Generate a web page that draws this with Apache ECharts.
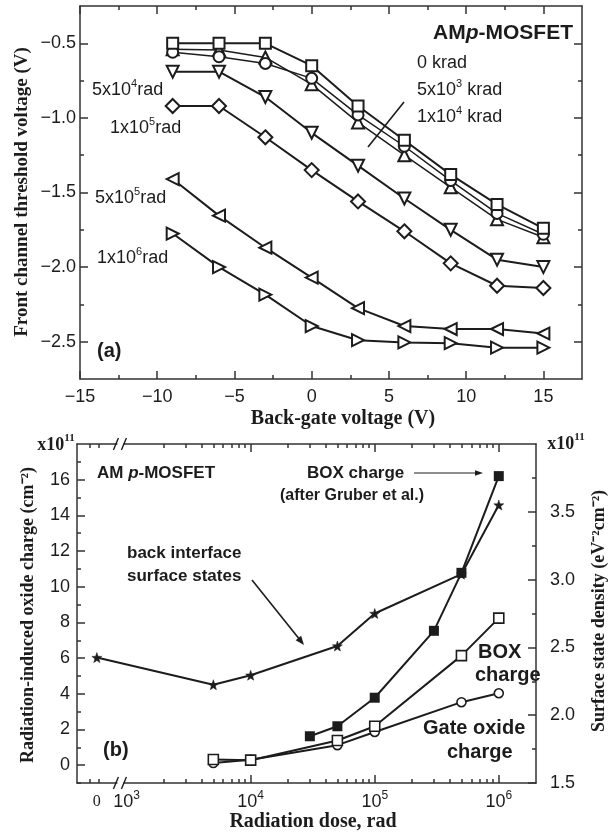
<!DOCTYPE html>
<html><head><meta charset="utf-8">
<script src="https://cdn.jsdelivr.net/npm/echarts@6/dist/echarts.min.js"></script>
<style>html,body{margin:0;padding:0;background:#fff}#c{width:611px;height:834px}</style>
</head><body><div id="c"></div>
<script>
// ---------- Panel (a) data ----------
const backGateV  = [-9, -6, -3, 0, 3, 6, 9, 12, 15];
const vt_0krad   = [-0.50, -0.50, -0.50, -0.65, -0.92, -1.15, -1.38, -1.58, -1.74];
const vt_5e3krad = [-0.56, -0.59, -0.635, -0.735, -0.98, -1.19, -1.42, -1.64, -1.78];
const vt_1e4krad = [-0.54, -0.545, -0.595, -0.775, -1.03, -1.25, -1.465, -1.68, -1.80];
const vt_5e4rad  = [-0.69, -0.69, -0.86, -1.10, -1.32, -1.54, -1.75, -1.95, -2.00];
const vt_1e5rad  = [-0.92, -0.92, -1.13, -1.35, -1.56, -1.76, -1.975, -2.125, -2.14];
const vt_5e5rad  = [-1.41, -1.655, -1.87, -2.07, -2.275, -2.395, -2.415, -2.415, -2.445];
const vt_1e6rad  = [-1.775, -2.00, -2.185, -2.395, -2.49, -2.505, -2.51, -2.54, -2.54];
const aXMajor = [-15, -10, -5, 0, 5, 10, 15];
const aXMinor = [-12.5, -7.5, -2.5, 2.5, 7.5, 12.5];
const aYMajor = [-0.5, -1.0, -1.5, -2.0, -2.5];
const aYMinor = [-0.75, -1.25, -1.75, -2.25];

// ---------- Panel (b) data ----------
const doseStar   = [0, 5e3, 1e4, 5e4, 1e5, 5e5, 1e6];
const surfState  = [2.425, 2.225, 2.295, 2.51, 2.75, 3.04, 3.55];
const doseGruber = [3e4, 5e4, 1e5, 3e5, 5e5, 1e6];
const boxGruber  = [1.62, 2.18, 3.78, 7.53, 10.78, 16.2];
const doseBox    = [5e3, 1e4, 5e4, 1e5, 5e5, 1e6];
const boxCharge  = [0.32, 0.28, 1.38, 2.18, 6.14, 8.24];
const doseGate   = [5e3, 1e4, 5e4, 1e5, 5e5, 1e6];
const gateCharge = [0.12, 0.30, 1.12, 1.86, 3.53, 4.03];
const bLeftMajor  = [0, 2, 4, 6, 8, 10, 12, 14, 16];
const bLeftMinor  = [-1, 1, 3, 5, 7, 9, 11, 13, 15, 17];
const bRightMajor = [1.5, 2.0, 2.5, 3.0, 3.5];
const bRightMinor = [1.75, 2.25, 2.75, 3.25, 3.75];
const bDoseLabels = [0, 1e3, 1e4, 1e5, 1e6];
const bDoseMajor  = [1e4, 1e5, 1e6];

// layout rule for the broken log axis: dose 0 is drawn left of the break
const ZERO_POS = 2.76, BREAK_POS = 2.95, X_MIN = 2.6, X_MAX = 6.3;
function xPos(d) { return d === 0 ? ZERO_POS : Math.log10(d); }
const bDoseMinor = [];
[2, 3, 4, 5].forEach(n => { for (let k = 2; k <= 9; k++) {
  const v = Math.log10(k * Math.pow(10, n));
  if (v > X_MIN + 0.02 && v < X_MAX && !(v > 2.82 && v < 3.05)) bDoseMinor.push(v);
}});

const INK = '#1c1c1c', AX = '#333';
const SANS = '"Liberation Sans", Arial, sans-serif';
const SERIF = '"Liberation Serif", "Times New Roman", serif';
const minus = s => String(s).replace('-', '\u2212');

function mkAxis(o) {
  return {
    type: 'value', gridIndex: o.grid, position: o.pos, min: o.min, max: o.max,
    axisLine: { show: !!o.line, onZero: false, lineStyle: { color: AX, width: 1.5 } },
    axisTick: { show: true, inside: true, length: o.len, customValues: o.ticks, lineStyle: { color: AX, width: 1.5 } },
    axisLabel: o.labels ? Object.assign({ show: true, customValues: o.labels, color: INK, fontFamily: SANS, fontSize: 18 }, o.labelOpt || {}) : { show: false },
    splitLine: { show: false }, minorTick: { show: false }, axisPointer: { show: false }
  };
}

const xAxes = [
  mkAxis({ grid: 0, pos: 'bottom', min: -15, max: 17.5, line: true, ticks: aXMajor, len: 8, labels: aXMajor, labelOpt: { margin: 9, formatter: v => minus(v) } }),
  mkAxis({ grid: 0, pos: 'bottom', min: -15, max: 17.5, ticks: aXMinor, len: 4 }),
  mkAxis({ grid: 0, pos: 'top', min: -15, max: 17.5, line: true, ticks: aXMajor, len: 8 }),
  mkAxis({ grid: 0, pos: 'top', min: -15, max: 17.5, ticks: aXMinor, len: 4 }),
  mkAxis({ grid: 1, pos: 'bottom', min: X_MIN, max: X_MAX, line: true, ticks: bDoseMajor.map(xPos), len: 8,
    labels: bDoseLabels.map(xPos), labelOpt: { margin: 7,
      formatter: v => Math.abs(v - ZERO_POS) < 1e-6 ? '{z|0}' : '{b|10}{s|' + Math.round(v) + '}',
      rich: { z: { fontFamily: SERIF, fontSize: 16, color: INK, lineHeight: 24, padding: [0, 0, 0, 0] },
              b: { fontFamily: SANS, fontSize: 18, color: INK, lineHeight: 24 },
              s: { fontFamily: SANS, fontSize: 12, color: INK, verticalAlign: 'top' } } } }),
  mkAxis({ grid: 1, pos: 'bottom', min: X_MIN, max: X_MAX, ticks: bDoseMinor, len: 4 }),
  mkAxis({ grid: 1, pos: 'top', min: X_MIN, max: X_MAX, line: true, ticks: bDoseMajor.map(xPos), len: 8 }),
  mkAxis({ grid: 1, pos: 'top', min: X_MIN, max: X_MAX, ticks: bDoseMinor, len: 4 })
];
const yAxes = [
  mkAxis({ grid: 0, pos: 'left', min: -2.75, max: -0.25, line: true, ticks: aYMajor, len: 8, labels: aYMajor, labelOpt: { margin: 4, formatter: v => minus(v.toFixed(1)) } }),
  mkAxis({ grid: 0, pos: 'left', min: -2.75, max: -0.25, ticks: aYMinor, len: 4 }),
  mkAxis({ grid: 0, pos: 'right', min: -2.75, max: -0.25, line: true, ticks: aYMajor, len: 8 }),
  mkAxis({ grid: 0, pos: 'right', min: -2.75, max: -0.25, ticks: aYMinor, len: 4 }),
  mkAxis({ grid: 1, pos: 'left', min: -1, max: 18, line: true, ticks: bLeftMajor, len: 8, labels: bLeftMajor, labelOpt: { margin: 7 } }),
  mkAxis({ grid: 1, pos: 'left', min: -1, max: 18, ticks: bLeftMinor, len: 4 }),
  mkAxis({ grid: 1, pos: 'right', min: 1.5, max: 4.0, line: true, ticks: bRightMajor, len: 8, labels: bRightMajor, labelOpt: { margin: 14, formatter: v => v.toFixed(1) } }),
  mkAxis({ grid: 1, pos: 'right', min: 1.5, max: 4.0, ticks: bRightMinor, len: 4 })
];

const STAR = 'path://M0,-10L2.35,-3.24L9.51,-3.09L3.8,1.24L5.88,8.09L0,4.5L-5.88,8.09L-3.8,1.24L-9.51,-3.09L-2.35,-3.24Z';
function ser(xs, ys, sym, o) {
  o = o || {};
  return {
    type: 'line', xAxisIndex: o.xi || 0, yAxisIndex: o.yi || 0,
    data: xs.map((x, i) => [o.xf ? o.xf(x) : x, ys[i]]),
    symbol: sym, symbolSize: o.size || 11, symbolRotate: o.rot || 0, showSymbol: true,
    lineStyle: { color: INK, width: o.lw || 2 },
    itemStyle: { color: o.fill || '#fff', borderColor: INK, borderWidth: o.bw === undefined ? 2 : o.bw },
    emphasis: { disabled: true }, silent: true, animation: false, z: o.z || 2
  };
}
const series = [
  ser(backGateV, vt_1e6rad, 'triangle', { rot: -90, size: 12 }),
  ser(backGateV, vt_5e5rad, 'triangle', { rot: 90, size: 12 }),
  ser(backGateV, vt_1e5rad, 'diamond', { size: 14 }),
  ser(backGateV, vt_5e4rad, 'triangle', { rot: 180, size: 12 }),
  ser(backGateV, vt_1e4krad, 'triangle', { size: 12, lw: 1.5 }),
  ser(backGateV, vt_5e3krad, 'circle', { size: 11, lw: 1.5 }),
  ser(backGateV, vt_0krad, 'rect', { size: 11 }),
  ser(doseGate, gateCharge, 'circle', { xi: 4, yi: 4, xf: xPos, size: 9, bw: 1.6 }),
  ser(doseBox, boxCharge, 'rect', { xi: 4, yi: 4, xf: xPos, size: 10, bw: 1.6 }),
  ser(doseGruber, boxGruber, 'rect', { xi: 4, yi: 4, xf: xPos, size: 10, fill: INK, bw: 0 }),
  ser(doseStar, surfState, STAR, { xi: 4, yi: 6, xf: xPos, size: 10, fill: INK, bw: 0.5 })
];

const chart = echarts.init(document.getElementById('c'), null, { renderer: 'canvas' });
chart.setOption({
  animation: false, backgroundColor: '#fff',
  grid: [
    { left: 80, top: 6, width: 502, height: 373, outerBoundsMode: 'none' },
    { left: 77, top: 444, width: 459, height: 339, outerBoundsMode: 'none' }
  ],
  xAxis: xAxes, yAxis: yAxes, series: series
});

// ---------- annotations ----------
const g = [];
function txt(x, y, text, font, align, extra) {
  const st = Object.assign({ text: text, font: font, fill: INK, align: align || 'left', verticalAlign: 'middle' }, extra || {});
  g.push({ type: 'text', x: x, y: y, silent: true, z: 50, style: st });
}
function rtxt(x, y, text, font, align, rich, rot) {
  const el = { type: 'text', x: x, y: y, silent: true, z: 50, style: { text: text, font: font, fill: INK, align: align || 'left', verticalAlign: 'middle', rich: rich } };
  if (rot) el.rotation = rot;
  g.push(el);
}
function line(x1, y1, x2, y2, w) {
  g.push({ type: 'line', silent: true, z: 50, shape: { x1, y1, x2, y2 }, style: { stroke: INK, lineWidth: w || 1.5 } });
}
function arrow(x1, y1, x2, y2, w, hl, hw) {
  const dx = x2 - x1, dy = y2 - y1, L = Math.hypot(dx, dy), ux = dx / L, uy = dy / L;
  line(x1, y1, x2 - ux * hl * 0.7, y2 - uy * hl * 0.7, w);
  g.push({ type: 'polygon', silent: true, z: 50, shape: { points: [[x2, y2],
    [x2 - ux * hl - uy * hw, y2 - uy * hl + ux * hw], [x2 - ux * hl + uy * hw, y2 - uy * hl - ux * hw]] }, style: { fill: INK } });
}
const supRich = (fs, ss, bold) => ({
  m: { fontFamily: SANS, fontSize: fs, fontWeight: bold ? 'bold' : 'normal', lineHeight: fs + 6, color: INK },
  s: { fontFamily: SANS, fontSize: ss, fontWeight: bold ? 'bold' : 'normal', verticalAlign: 'top', color: INK }
});

// panel (a)
rtxt(573, 33, '{b|AM}{i|p}{b|-MOSFET}', 'bold 21px ' + SANS, 'right', {
  b: { fontFamily: SANS, fontSize: 21, fontWeight: 'bold', color: INK },
  i: { fontFamily: SANS, fontSize: 21, fontWeight: 'bold', fontStyle: 'italic', color: INK } });
txt(417, 63, '0 krad', '18px ' + SANS);
rtxt(417, 90, '{m|5x10}{s|3}{m| krad}', '18px ' + SANS, 'left', supRich(18, 11));
rtxt(417, 117, '{m|1x10}{s|4}{m| krad}', '18px ' + SANS, 'left', supRich(18, 11));
line(404, 102, 368, 147, 1.6);
rtxt(92, 90, '{m|5x10}{s|4}{m|rad}', '18px ' + SANS, 'left', supRich(18, 11));
rtxt(110, 128, '{m|1x10}{s|5}{m|rad}', '18px ' + SANS, 'left', supRich(18, 11));
rtxt(95, 198, '{m|5x10}{s|5}{m|rad}', '18px ' + SANS, 'left', supRich(18, 11));
rtxt(97, 258, '{m|1x10}{s|6}{m|rad}', '18px ' + SANS, 'left', supRich(18, 11));
txt(97, 351, '(a)', 'bold 20px ' + SANS);
rtxt(22, 192, 'Front channel threshold voltage (V)', 'bold 19px ' + SERIF, 'center', undefined, Math.PI / 2);
txt(343, 419, 'Back-gate voltage (V)', 'bold 20px ' + SERIF, 'center');

// panel (b)
rtxt(97, 473, '{b|AM }{i|p}{b|-MOSFET}', 'bold 17px ' + SANS, 'left', {
  b: { fontFamily: SANS, fontSize: 17, fontWeight: 'bold', color: INK },
  i: { fontFamily: SANS, fontSize: 17, fontWeight: 'bold', fontStyle: 'italic', color: INK } });
txt(307, 473, 'BOX charge', 'bold 17px ' + SANS);
arrow(414, 473, 483, 473, 1, 8, 2.8);
txt(280, 496, '(after Gruber et al.)', 'bold 16px ' + SANS);
txt(127, 553, 'back interface', 'bold 17px ' + SANS);
txt(127, 576, 'surface states', 'bold 17px ' + SANS);
arrow(252, 580, 304, 645, 1.6, 9, 3.5);
txt(478, 652, 'BOX', 'bold 20px ' + SANS);
txt(475, 675, 'charge', 'bold 20px ' + SANS);
txt(423, 728, 'Gate oxide', 'bold 20px ' + SANS);
txt(447, 752, 'charge', 'bold 20px ' + SANS);
txt(103, 750, '(b)', 'bold 20px ' + SANS);
const x11Rich = { m: { fontFamily: SERIF, fontSize: 18, fontWeight: 'bold', lineHeight: 24, color: INK },
                  s: { fontFamily: SERIF, fontSize: 11, fontWeight: 'bold', verticalAlign: 'top', color: INK } };
rtxt(56, 445, '{m|x10}{s|11}', 'bold 18px ' + SERIF, 'center', x11Rich);
rtxt(566, 444, '{m|x10}{s|11}', 'bold 18px ' + SERIF, 'center', x11Rich);
rtxt(28, 615, 'Radiation-induced oxide charge (cm\u207B\u00B2)', 'bold 18px ' + SERIF, 'center', undefined, Math.PI / 2);
rtxt(599, 611, 'Surface state density (eV\u207B\u00B2cm\u207B\u00B2)', 'bold 18px ' + SERIF, 'center', undefined, Math.PI / 2);
txt(313, 822, 'Radiation dose, rad', 'bold 20px ' + SERIF, 'center');

// axis break marks on the broken log axis
const bx = chart.convertToPixel({ xAxisIndex: 4 }, BREAK_POS);
const yBot = chart.convertToPixel({ yAxisIndex: 4 }, -1);
const yTop = chart.convertToPixel({ yAxisIndex: 4 }, 18);
[yBot, yTop].forEach(y => {
  g.push({ type: 'rect', silent: true, z: 49, shape: { x: bx - 3, y: y - 3, width: 6, height: 6 }, style: { fill: '#fff' } });
  line(bx - 7, y + 6, bx - 2, y - 6, 1.4);
  line(bx + 1, y + 6, bx + 6, y - 6, 1.4);
});

chart.setOption({ graphic: g });
</script></body></html>
